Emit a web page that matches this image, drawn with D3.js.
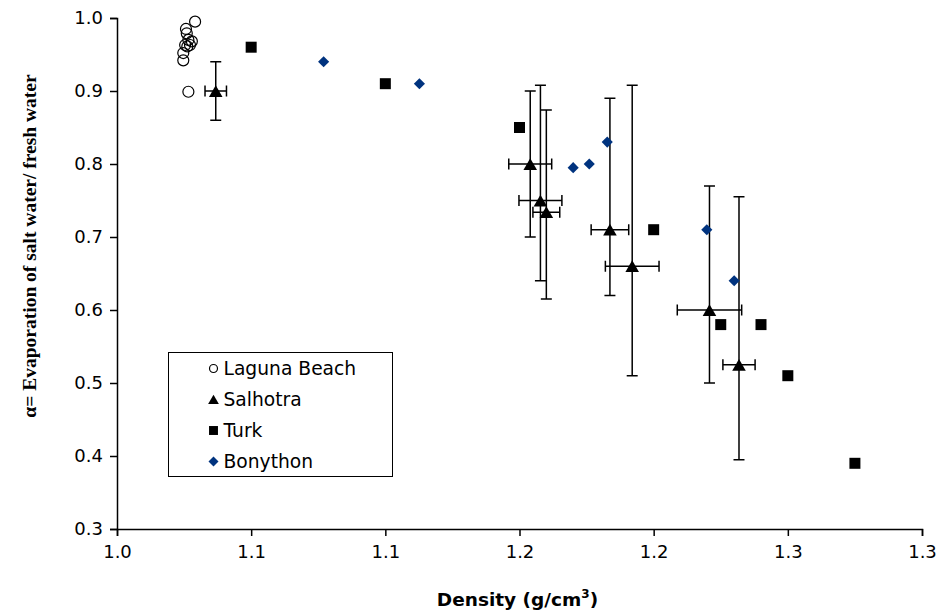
<!DOCTYPE html>
<html>
<head>
<meta charset="utf-8">
<script src="https://cdn.jsdelivr.net/npm/d3@7"></script>
<style>
  body { margin: 0; background: #fff; }
  svg { display: block; }
  .axis path, .axis line { stroke: #000; stroke-width: 1.5; }
  .axis text { font-family: "DejaVu Sans", Verdana, sans-serif; font-size: 18px; fill: #000; }
</style>
</head>
<body>
<div id="chart"></div>
<script>
// tick labels (Excel 0.0 formatting of 0.05 steps)
var xTicks = [1.00, 1.05, 1.10, 1.15, 1.20, 1.25, 1.30];
var xTickLabels = ["1.0", "1.1", "1.1", "1.2", "1.2", "1.3", "1.3"];
var yTicks = [0.3, 0.4, 0.5, 0.6, 0.7, 0.8, 0.9, 1.0];

// Laguna Beach
var lagunaX = [1.0291, 1.0257, 1.0260, 1.0266, 1.0254, 1.0272, 1.0262, 1.0279, 1.0247, 1.0247, 1.0266];
var lagunaY = [0.995, 0.985, 0.979, 0.970, 0.963, 0.963, 0.961, 0.968, 0.952, 0.942, 0.899];

// Salhotra (with error bars)
var salhotraX = [1.0368, 1.1540, 1.1578, 1.1600, 1.1837, 1.1920, 1.2208, 1.2318];
var salhotraY = [0.900, 0.800, 0.750, 0.734, 0.710, 0.660, 0.600, 0.525];
var salhotraXErr = [0.004, 0.008, 0.008, 0.005, 0.007, 0.010, 0.012, 0.006];
var salhotraYErrPlus = [0.040, 0.100, 0.158, 0.140, 0.180, 0.248, 0.170, 0.230];
var salhotraYErrMinus = [0.040, 0.100, 0.110, 0.119, 0.090, 0.150, 0.100, 0.130];

// Turk
var turkX = [1.050, 1.100, 1.150, 1.200, 1.225, 1.240, 1.250, 1.275];
var turkY = [0.96, 0.91, 0.85, 0.71, 0.58, 0.58, 0.51, 0.39];

// Bonython
var bonythonX = [1.077, 1.1127, 1.170, 1.176, 1.1827, 1.2198, 1.230];
var bonythonY = [0.94, 0.91, 0.795, 0.80, 0.83, 0.71, 0.64];

var seriesNames = ["Laguna Beach", "Salhotra", "Turk", "Bonython"];
var blue = "#00337f";

var width = 938, height = 616;
var margin = {top: 18, right: 16, bottom: 87, left: 117};
var w = width - margin.left - margin.right;
var h = height - margin.top - margin.bottom;

var svg = d3.select("#chart").append("svg")
    .attr("width", width)
    .attr("height", height);

var g = svg.append("g")
    .attr("transform", "translate(" + margin.left + "," + margin.top + ")");

var x = d3.scaleLinear().domain([1.0, 1.3]).range([0, w]);
var y = d3.scaleLinear().domain([0.3, 1.0]).range([h, 0]);

// axes
g.append("g")
    .attr("class", "axis")
    .attr("transform", "translate(0," + h + ")")
    .call(d3.axisBottom(x).tickValues(xTicks).tickSizeOuter(0).tickSize(7).tickPadding(9)
      .tickFormat(function(d, i) { return xTickLabels[i]; }));

g.append("g")
    .attr("class", "axis")
    .call(d3.axisLeft(y).tickValues(yTicks).tickSizeOuter(0).tickSize(7).tickPadding(7)
      .tickFormat(d3.format(".1f")));

// error bars for Salhotra
var sal = salhotraX.map(function(d, i) {
  return {x: d, y: salhotraY[i], xe: salhotraXErr[i], yp: salhotraYErrPlus[i], ym: salhotraYErrMinus[i]};
});
var cap = 5.5;
var eb = g.append("g").attr("stroke", "#000").attr("stroke-width", 1.5).attr("fill", "none");
sal.forEach(function(d) {
  var cx = x(d.x), cy = y(d.y);
  var y0 = y(d.y + d.yp), y1 = y(d.y - d.ym);
  var x0 = x(d.x - d.xe), x1 = x(d.x + d.xe);
  eb.append("path").attr("d",
    "M" + cx + "," + y0 + "V" + y1 +
    "M" + (cx - cap) + "," + y0 + "H" + (cx + cap) +
    "M" + (cx - cap) + "," + y1 + "H" + (cx + cap) +
    "M" + x0 + "," + cy + "H" + x1 +
    "M" + x0 + "," + (cy - cap) + "V" + (cy + cap) +
    "M" + x1 + "," + (cy - cap) + "V" + (cy + cap));
});

// Laguna Beach circles
g.append("g").selectAll("circle")
    .data(lagunaX.map(function(d, i) { return [d, lagunaY[i]]; }))
    .enter().append("circle")
    .attr("cx", function(d) { return x(d[0]); })
    .attr("cy", function(d) { return y(d[1]); })
    .attr("r", 5.5)
    .attr("fill", "none")
    .attr("stroke", "#000")
    .attr("stroke-width", 1.2);

// Salhotra triangles (shifted so the box, not the centroid, sits on the point)
var tri = d3.symbol().type(d3.symbolTriangle).size(80);
g.append("g").selectAll("path")
    .data(sal)
    .enter().append("path")
    .attr("d", tri)
    .attr("transform", function(d) { return "translate(" + x(d.x) + "," + (y(d.y) + 2) + ")"; })
    .attr("fill", "#000");

// Turk squares
var sq = d3.symbol().type(d3.symbolSquare).size(121);
g.append("g").selectAll("path")
    .data(turkX.map(function(d, i) { return [d, turkY[i]]; }))
    .enter().append("path")
    .attr("d", sq)
    .attr("transform", function(d) { return "translate(" + x(d[0]) + "," + y(d[1]) + ")"; })
    .attr("fill", "#000");

// Bonython diamonds
var dia = d3.symbol().type(d3.symbolSquare).size(62);
g.append("g").selectAll("path")
    .data(bonythonX.map(function(d, i) { return [d, bonythonY[i]]; }))
    .enter().append("path")
    .attr("d", dia)
    .attr("transform", function(d) { return "translate(" + x(d[0]) + "," + y(d[1]) + ") rotate(45)"; })
    .attr("fill", blue);

// legend
var legend = svg.append("g").attr("transform", "translate(168.5,352.5)");
legend.append("rect")
    .attr("width", 224)
    .attr("height", 124)
    .attr("fill", "#fff")
    .attr("stroke", "#000")
    .attr("stroke-width", 1);

var rows = legend.selectAll("g.row")
    .data(seriesNames)
    .enter().append("g")
    .attr("class", "row")
    .attr("transform", function(d, i) { return "translate(45," + (16 + i * 31) + ")"; });

rows.append("path")
    .attr("d", function(d, i) {
      if (i === 0) return d3.symbol().type(d3.symbolCircle).size(50)();
      if (i === 1) return d3.symbol().type(d3.symbolTriangle).size(50)();
      if (i === 2) return d3.symbol().type(d3.symbolSquare).size(80)();
      return d3.symbol().type(d3.symbolSquare).size(50)();
    })
    .attr("transform", function(d, i) {
      if (i === 1) return "translate(0,1.5)";
      return i === 3 ? "rotate(45)" : null;
    })
    .attr("fill", function(d, i) { return i === 0 ? "none" : (i === 3 ? blue : "#000"); })
    .attr("stroke", function(d, i) { return i === 0 ? "#000" : "none"; })
    .attr("stroke-width", 1.2);

rows.append("text")
    .attr("x", 10)
    .attr("dy", "0.36em")
    .attr("font-family", "DejaVu Sans, Verdana, sans-serif")
    .attr("font-size", 18.7)
    .text(function(d) { return d; });

// axis titles
var xt = svg.append("text")
    .attr("x", margin.left + x(1.15) - 2)
    .attr("y", 606)
    .attr("text-anchor", "middle")
    .attr("font-family", "DejaVu Sans, Verdana, sans-serif")
    .attr("font-weight", "bold")
    .attr("font-size", 18.5);
xt.append("tspan").text("Density (g/cm");
xt.append("tspan").attr("dy", -8).attr("font-size", 12).text("3");
xt.append("tspan").attr("dy", 8).text(")");

svg.append("text")
    .attr("transform", "translate(36,246) rotate(-90)")
    .attr("text-anchor", "middle")
    .attr("font-family", "Liberation Serif, Times New Roman, serif")
    .attr("font-weight", "bold")
    .attr("font-size", 19.5)
    .text("α= Evaporation of salt water/ fresh water");
</script>
</body>
</html>
